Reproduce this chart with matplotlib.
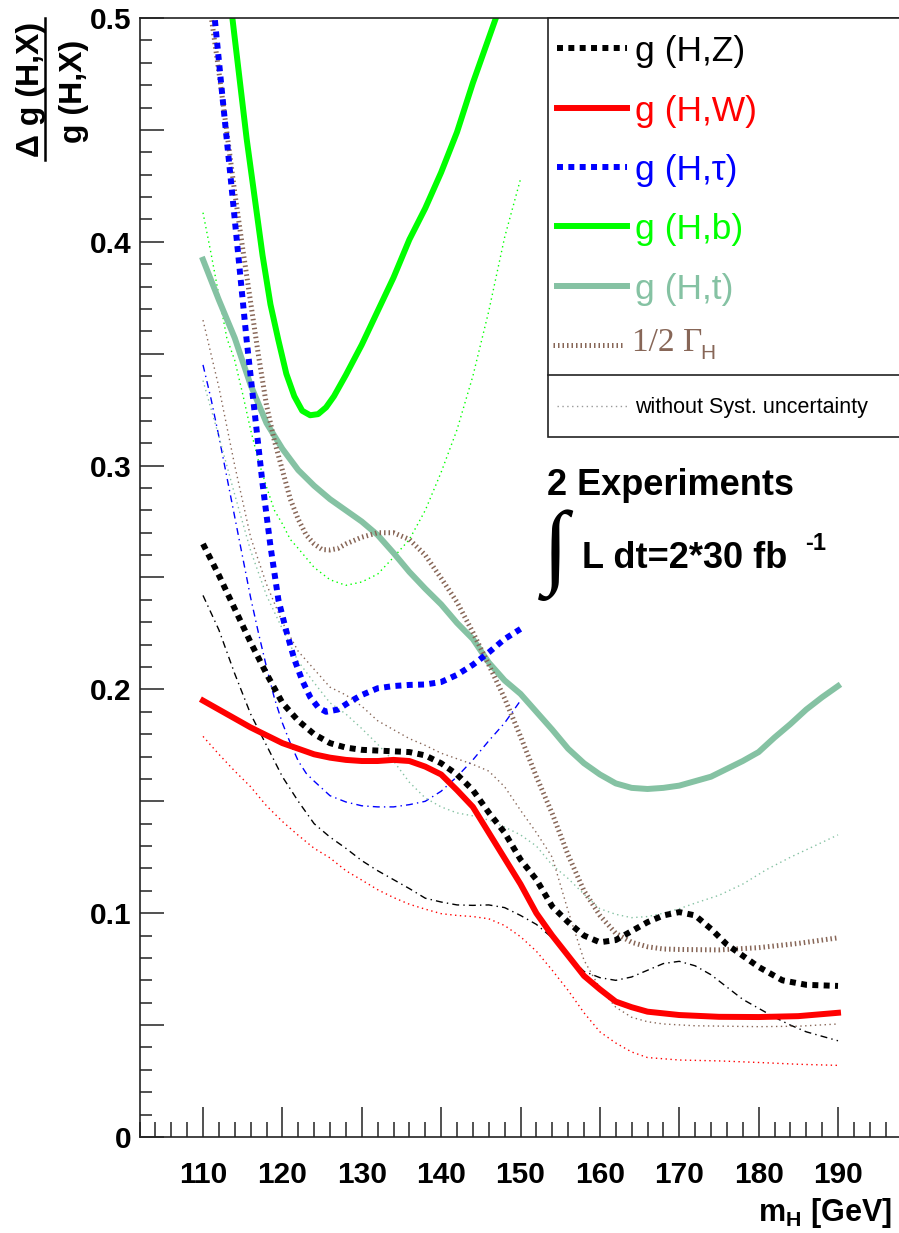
import matplotlib
matplotlib.use("Agg")
import matplotlib.pyplot as plt
from matplotlib.lines import Line2D
from matplotlib.patches import Rectangle
from matplotlib.ticker import FixedLocator, MultipleLocator, FuncFormatter

plt.rcParams["font.family"] = ["Liberation Sans", "DejaVu Sans"]
plt.rcParams["mathtext.fontset"] = "custom"
plt.rcParams["mathtext.rm"] = "Liberation Sans"
plt.rcParams["mathtext.bf"] = "Liberation Sans:bold"
plt.rcParams["mathtext.it"] = "Liberation Sans:italic"

# --- data (m_H in GeV, relative error) ---
hz_x = [110, 112, 114, 116, 118, 120, 122, 124, 126, 128, 130, 133, 136, 138, 140, 142, 144,
        146, 148, 150, 152, 154, 156, 158, 160, 162, 164, 166, 168, 170, 172, 174, 176, 178,
        180, 183, 186, 190]
hz_y = [0.265, 0.251, 0.236, 0.221, 0.207, 0.194, 0.186, 0.180, 0.176, 0.174, 0.173, 0.1725,
        0.172, 0.1705, 0.167, 0.162, 0.155, 0.145, 0.136, 0.124, 0.115, 0.103, 0.096, 0.090,
        0.087, 0.088, 0.092, 0.096, 0.099, 0.1005, 0.099, 0.093, 0.086, 0.081, 0.076, 0.070,
        0.068, 0.0675]

hw_x = [110, 112, 114, 116, 118, 120, 122, 124, 126, 128, 130, 132, 134, 136, 138, 140, 142,
        144, 146, 148, 150, 152, 154, 156, 158, 160, 162, 164, 166, 170, 175, 180, 185, 190]
hw_y = [0.195, 0.191, 0.187, 0.183, 0.1795, 0.176, 0.1735, 0.171, 0.1695, 0.1685, 0.168,
        0.168, 0.1685, 0.168, 0.1655, 0.162, 0.155, 0.1475, 0.136, 0.1245, 0.113, 0.100,
        0.090, 0.081, 0.072, 0.066, 0.0605, 0.058, 0.056, 0.0545, 0.0537, 0.0536, 0.054, 0.0555]

htau_x = [111.5, 112.5, 113.5, 114.5, 115.5, 116.5, 117.5, 118.5, 119.5, 120.5, 121.5, 122.5,
          123.5, 124.5, 125.5, 127, 128.5, 130, 132, 134, 136, 138, 140, 142, 144, 146, 148, 150]
htau_y = [0.499, 0.463, 0.428, 0.392, 0.356, 0.324, 0.292, 0.264, 0.240, 0.226, 0.2135, 0.204,
          0.1966, 0.192, 0.190, 0.191, 0.1945, 0.1975, 0.2005, 0.2015, 0.202, 0.2022, 0.2033,
          0.2065, 0.211, 0.2165, 0.2225, 0.227]

hb_x = [113.7, 114.5, 115.5, 116.5, 117.5, 118.5, 119.5, 120.5, 121.5, 122.5, 123.5, 124.5,
        125.5, 126.5, 128, 130, 132, 134, 136, 138, 140, 142, 144, 146, 146.9]
hb_y = [0.500, 0.476, 0.446, 0.420, 0.394, 0.372, 0.356, 0.341, 0.331, 0.3245, 0.3225, 0.323,
        0.326, 0.331, 0.3405, 0.354, 0.369, 0.384, 0.401, 0.415, 0.431, 0.449, 0.471, 0.491, 0.500]

ht_x = [110, 112, 114, 116, 118, 120, 122, 124, 126, 128, 130, 132, 134, 136, 138, 140, 142,
        144, 146, 148, 150, 152, 154, 156, 158, 160, 162, 164, 166, 168, 170, 172, 174, 176,
        178, 180, 182, 184, 186, 188, 190]
ht_y = [0.392, 0.374, 0.357, 0.336, 0.319, 0.3075, 0.298, 0.291, 0.285, 0.280, 0.275, 0.269,
        0.261, 0.2525, 0.245, 0.238, 0.2297, 0.2225, 0.212, 0.204, 0.198, 0.190, 0.182, 0.1735,
        0.167, 0.162, 0.158, 0.156, 0.1555, 0.156, 0.157, 0.159, 0.161, 0.1645, 0.168, 0.172,
        0.1785, 0.1845, 0.191, 0.1965, 0.2015]

gam_x = [111.1, 112, 113, 114, 115, 116, 117, 118, 119, 120, 121, 122, 123, 124, 125, 126,
         127, 128, 130, 132, 134, 136, 138, 140, 142, 144, 146, 148, 150, 152, 154, 156, 158,
         160, 162, 164, 166, 168, 170, 175, 180, 185, 190]
gam_y = [0.499, 0.476, 0.449, 0.422, 0.397, 0.373, 0.349, 0.327, 0.311, 0.298, 0.285, 0.276,
         0.269, 0.265, 0.2625, 0.2623, 0.263, 0.265, 0.268, 0.270, 0.270, 0.267, 0.260, 0.2497,
         0.239, 0.2255, 0.211, 0.196, 0.179, 0.161, 0.1445, 0.126, 0.110, 0.099, 0.091, 0.087,
         0.085, 0.084, 0.0838, 0.0836, 0.0846, 0.0865, 0.089]

# without systematic uncertainty
hz0_x = [110, 112, 114, 116, 118, 120, 122, 124, 126, 128, 130, 132, 134, 136, 138, 140, 142,
         144, 146, 148, 150, 152, 154, 156, 158, 160, 162, 164, 166, 168, 170, 172, 174, 176,
         178, 180, 182, 184, 186, 188, 190]
hz0_y = [0.242, 0.2266, 0.207, 0.189, 0.175, 0.161, 0.150, 0.140, 0.134, 0.129, 0.1235, 0.119,
         0.115, 0.111, 0.1067, 0.105, 0.1037, 0.1035, 0.1037, 0.1025, 0.099, 0.095, 0.089,
         0.081, 0.074, 0.0712, 0.070, 0.0715, 0.0745, 0.0775, 0.0785, 0.0765, 0.0725, 0.067,
         0.0615, 0.0575, 0.0535, 0.050, 0.047, 0.045, 0.043]

hw0_x = [110, 112, 114, 116, 118, 120, 122, 124, 126, 128, 130, 132, 134, 136, 138, 140, 142,
         144, 146, 148, 150, 152, 154, 156, 158, 160, 162, 164, 166, 170, 175, 180, 185, 190]
hw0_y = [0.179, 0.171, 0.1635, 0.1565, 0.148, 0.141, 0.1348, 0.129, 0.1247, 0.119, 0.1148,
         0.1105, 0.107, 0.104, 0.1018, 0.0998, 0.099, 0.0985, 0.0975, 0.0945, 0.0895, 0.083,
         0.0745, 0.0655, 0.0555, 0.047, 0.042, 0.038, 0.0355, 0.0344, 0.034, 0.0333, 0.0325, 0.032]

htau0_x = [110, 111, 112, 113, 114, 115, 116, 117, 118, 119, 120, 121, 122, 123, 124, 126, 128,
           130, 132, 134, 136, 138, 140, 142, 144, 146, 148, 150]
htau0_y = [0.345, 0.330, 0.313, 0.295, 0.277, 0.259, 0.241, 0.225, 0.210, 0.196, 0.185, 0.176,
           0.168, 0.1625, 0.159, 0.1525, 0.1497, 0.148, 0.1475, 0.1475, 0.1485, 0.150, 0.1545,
           0.161, 0.1685, 0.177, 0.185, 0.195]

hb0_x = [110, 111, 112, 113, 114, 115, 116, 117, 118, 119, 120, 121, 122, 124, 126, 128, 130,
         132, 134, 136, 138, 140, 142, 144, 146, 148, 150]
hb0_y = [0.413, 0.395, 0.376, 0.357, 0.347, 0.332, 0.316, 0.302, 0.2905, 0.280, 0.274, 0.267,
         0.263, 0.2545, 0.249, 0.2465, 0.248, 0.2515, 0.259, 0.267, 0.280, 0.297, 0.316, 0.340,
         0.369, 0.402, 0.428]

ht0_x = [110, 112, 114, 116, 118, 120, 122, 124, 126, 128, 130, 132, 134, 136, 138, 140, 142,
         144, 146, 148, 150, 152, 154, 156, 158, 160, 162, 164, 166, 168, 170, 172, 175, 178,
         181, 184, 187, 190]
ht0_y = [0.338, 0.313, 0.287, 0.262, 0.242, 0.227, 0.2125, 0.203, 0.194, 0.189, 0.1825, 0.1755,
         0.168, 0.1585, 0.1515, 0.1475, 0.1448, 0.1435, 0.1416, 0.1385, 0.135, 0.130, 0.1215,
         0.1155, 0.1085, 0.102, 0.0995, 0.098, 0.0985, 0.100, 0.102, 0.1045, 0.108, 0.113,
         0.1195, 0.125, 0.130, 0.135]

gam0_x = [110, 112, 114, 116, 118, 120, 122, 124, 126, 128, 130, 132, 134, 136, 138, 140, 142,
          144, 146, 148, 150, 152, 154, 156, 158, 160, 162, 164, 166, 168, 172, 176, 180, 185, 190]
gam0_y = [0.365, 0.335, 0.300, 0.268, 0.247, 0.230, 0.217, 0.209, 0.201, 0.1975, 0.1925, 0.186,
          0.182, 0.178, 0.175, 0.1715, 0.169, 0.1665, 0.1635, 0.1565, 0.146, 0.136, 0.125,
          0.101, 0.079, 0.0665, 0.058, 0.0535, 0.0515, 0.0505, 0.0497, 0.0495, 0.0493, 0.0495,
          0.0505]

x_ticks = [110, 120, 130, 140, 150, 160, 170, 180, 190]
y_ticks = [0, 0.1, 0.2, 0.3, 0.4, 0.5]

BLACK, RED, BLUE, GREEN = "#000000", "#ff0000", "#0000ff", "#00ff00"
SEA, BROWN = "#85c2a3", "#876657"

W, H = 899, 1233
fig = plt.figure(figsize=(W / 100, H / 100), dpi=100)


def fx(x):
    return x / W


def fy(y):
    return 1 - y / H


ax = fig.add_axes([fx(139.5), fy(1137), fx(901.5) - fx(139.5), fy(18) - fy(1137)])
ax.set_xlim(102, 198)
ax.set_ylim(0, 0.5)

thin = 1.0
dotted = (0, (1, 2.5))
dashdot = (0, (5, 3, 1, 3))
ax.plot(hz0_x, hz0_y, color=BLACK, lw=thin, ls=dashdot)
ax.plot(hw0_x, hw0_y, color=RED, lw=thin, ls=dotted)
ax.plot(htau0_x, htau0_y, color=BLUE, lw=thin, ls=dashdot)
ax.plot(hb0_x, hb0_y, color=GREEN, lw=thin, ls=dotted)
ax.plot(ht0_x, ht0_y, color=SEA, lw=thin, ls=dotted)
ax.plot(gam0_x, gam0_y, color=BROWN, lw=thin, ls=dotted)

thick = 4.3
sq = (0, (1.0, 0.9))
hatch = (0, (0.3, 0.6))
ax.plot(ht_x, ht_y, color=SEA, lw=thick)
ax.plot(hb_x, hb_y, color=GREEN, lw=thick)
ax.plot(gam_x, gam_y, color=BROWN, lw=3.6, ls=hatch)
ax.plot(htau_x, htau_y, color=BLUE, lw=thick, ls=sq)
ax.plot(hw_x, hw_y, color=RED, lw=thick)
ax.plot(hz_x, hz_y, color=BLACK, lw=thick, ls=sq)

# axes / ticks (ROOT style: ticks inside, only left & bottom)
for s in ["left", "bottom", "top", "right"]:
    ax.spines[s].set_linewidth(1.2)
    ax.spines[s].set_color("#222222")
ax.xaxis.set_major_locator(FixedLocator(x_ticks))
ax.xaxis.set_minor_locator(MultipleLocator(2))
ax.yaxis.set_major_locator(MultipleLocator(0.05))
ax.yaxis.set_minor_locator(MultipleLocator(0.01))
ax.yaxis.set_major_formatter(FuncFormatter(
    lambda v, p: ("0" if abs(v) < 1e-9 else f"{v:.1f}") if min(abs(v - t) for t in y_ticks) < 1e-6 else ""))
ax.tick_params(axis="x", which="major", direction="in", length=21.6, width=1.1,
               pad=17, labelsize=21.5, color="#222222")
ax.tick_params(axis="x", which="minor", direction="in", length=10.8, width=1.1, color="#222222")
ax.tick_params(axis="y", which="major", direction="in", length=17.3, width=1.1,
               pad=6, labelsize=21.5, color="#222222")
ax.tick_params(axis="y", which="minor", direction="in", length=8.6, width=1.1, color="#222222")
for lab in ax.get_xticklabels() + ax.get_yticklabels():
    lab.set_fontweight("bold")

# y title: fraction
fig.text(fx(31), fy(89), "\u0394 g (H,X)", rotation=90, ha="center", va="center",
         fontsize=23, fontweight="bold")
fig.text(fx(74), fy(91), "g (H,X)", rotation=90, ha="center", va="center",
         fontsize=23, fontweight="bold")
fig.add_artist(Line2D([fx(45), fx(45)], [fy(18), fy(160)], color="black", lw=1.8))

# x title
fig.text(fx(892), fy(1221), r"$\mathbf{m_H}$ [GeV]", ha="right", va="baseline",
         fontsize=22, fontweight="bold")

# legend box
fig.add_artist(Rectangle((fx(548), fy(437)), fx(920) - fx(548), fy(18) - fy(437),
                         facecolor="white", edgecolor="#222222", lw=1.2, zorder=5))
fig.add_artist(Line2D([fx(548), fx(905)], [fy(375), fy(375)], color="#222222", lw=1.2, zorder=6))

entries = [
    ("g (H,Z)", BLACK, thick, sq),
    ("g (H,W)", RED, thick, "-"),
    ("g (H,\u03c4)", BLUE, thick, sq),
    ("g (H,b)", GREEN, thick, "-"),
    ("g (H,t)", SEA, thick, "-"),
]
for i, (lab, c, lw, ls) in enumerate(entries):
    yc = 48 + 59.5 * i
    fig.add_artist(Line2D([fx(557), fx(627)], [fy(yc), fy(yc)], color=c, lw=lw, ls=ls, zorder=7))
    fig.text(fx(635), fy(yc + 13), lab, color=c, fontsize=25.5, ha="left", va="baseline", zorder=7)

fig.add_artist(Line2D([fx(553), fx(625)], [fy(345), fy(345)], color=BROWN, lw=3.6, ls=hatch, zorder=7))
fig.text(fx(632), fy(351), "1/2 \u0393", color=BROWN, fontsize=24, family="Liberation Serif",
         ha="left", va="baseline", zorder=7)
fig.text(fx(700), fy(359), "H", color=BROWN, fontsize=15, ha="left", va="baseline", zorder=7)

fig.add_artist(Line2D([fx(557), fx(627)], [fy(406), fy(406)], color="#999999", lw=1.0,
                      ls=dotted, zorder=7))
fig.text(fx(635), fy(413), "without Syst. uncertainty", fontsize=15.5, ha="left",
         va="baseline", zorder=7)

# luminosity text
fig.text(fx(547), fy(495), "2 Experiments", fontsize=26, fontweight="bold", ha="left", va="baseline")
fig.text(fx(543), fy(576), "\u222b", fontsize=67, family="Liberation Serif", ha="left", va="baseline")
fig.text(fx(582), fy(568), "L dt=2*30 fb", fontsize=26, fontweight="bold", ha="left", va="baseline")
fig.text(fx(805), fy(550), "-1", fontsize=17, fontweight="bold", ha="left", va="baseline")

fig.savefig("out.png", dpi=100)
